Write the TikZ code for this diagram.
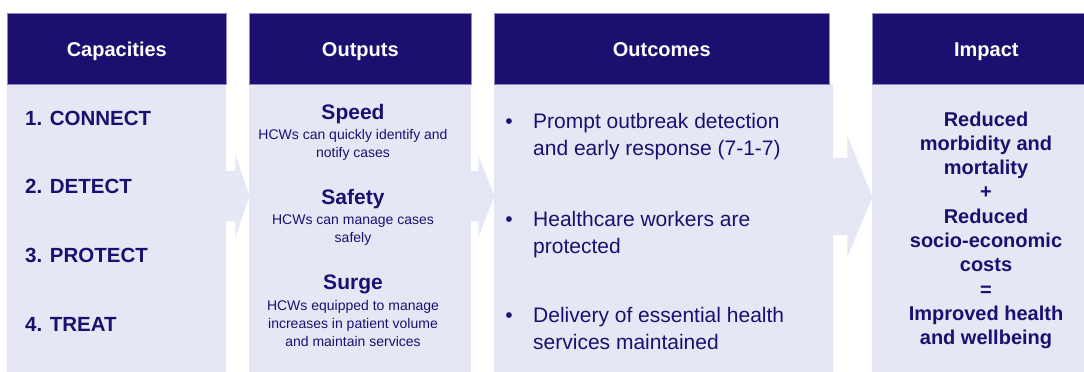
\documentclass[tikz,border=0pt]{standalone}
\usepackage{fontspec}
\setmainfont{Liberation Sans}
\usetikzlibrary{calc}
\definecolor{navy}{HTML}{1B1070}
\definecolor{pale}{HTML}{E6E7F5}
\definecolor{rim}{HTML}{8E8AC6}
\begin{document}
\begin{tikzpicture}[x=1pt,y=-1pt,
  headbox/.style={fill=navy, draw=rim, line width=0.6pt, anchor=north west,
    minimum height=71pt, inner sep=0pt, text=white,
    text height=15.5pt, text depth=0pt,
    font=\bfseries\fontsize{20}{24}\selectfont},
  panelbox/.style={fill=pale, anchor=north west, minimum height=288pt, inner sep=0pt},
  capitem/.style={anchor=base west, inner sep=0pt, text=navy,
    font=\bfseries\fontsize{20.5}{24}\selectfont},
  outtitle/.style={anchor=base, inner sep=0pt, text=navy,
    font=\bfseries\fontsize{21}{25}\selectfont},
  % multi-line nodes below are placed by the baseline of their last line
  outnote/.style={anchor=base, inner sep=0pt, text=navy, align=center,
    font=\fontsize{14}{18}\selectfont},
  bulletdot/.style={anchor=base, inner sep=0pt, text=navy,
    font=\fontsize{21}{27.5}\selectfont},
  outcomeitem/.style={anchor=base west, inner sep=0pt, text=navy, align=left,
    font=\fontsize{21}{27.5}\selectfont},
  impacttext/.style={anchor=base, inner sep=0pt, text=navy, align=center,
    font=\bfseries\fontsize{20}{24.3}\selectfont}]
\useasboundingbox (0,0) rectangle (1084,372);
\clip (0,0) rectangle (1084,372);
\fill[white] (0,0) rectangle (1084,372);

% column bodies
\node[panelbox, minimum width=219pt] (b1) at (7,84) {};
\node[panelbox, minimum width=222pt] (b2) at (249,84) {};
\node[panelbox, minimum width=339pt] (b3) at (494,84) {};
\node[panelbox, minimum width=228pt] (b4) at (872,84) {};

% block arrows between the columns
\fill[pale] ($(b1.north east)+(-1,87)$) -- ($(b1.north east)+(9,87)$)
  -- ($(b1.north east)+(9,71)$) -- ($(b2.north west)+(0.5,112)$)
  -- ($(b1.north east)+(9,153)$) -- ($(b1.north east)+(9,137)$)
  -- ($(b1.north east)+(-1,137)$) -- cycle;
\fill[pale] ($(b2.north east)+(-1,87)$) -- ($(b2.north east)+(7,87)$)
  -- ($(b2.north east)+(7,72)$) -- ($(b3.north west)+(0.5,112)$)
  -- ($(b2.north east)+(7,153)$) -- ($(b2.north east)+(7,137)$)
  -- ($(b2.north east)+(-1,137)$) -- cycle;
\fill[pale] ($(b3.north east)+(-1,74)$) -- ($(b3.north east)+(14,74)$)
  -- ($(b3.north east)+(14,52)$) -- ($(b4.north west)+(0.5,113)$)
  -- ($(b3.north east)+(14,173)$) -- ($(b3.north east)+(14,151)$)
  -- ($(b3.north east)+(-1,151)$) -- cycle;

% headers
\node[headbox, minimum width=219pt] (h1) at (7,13) {Capacities};
\node[headbox, minimum width=222pt] (h2) at (249,13) {Outputs};
\node[headbox, minimum width=335pt] (h3) at (494,13) {Outcomes};
\node[headbox, minimum width=228pt] (h4) at (872,13) {Impact};

% capacities
\node[capitem] (c1) at (25,125) {1. CONNECT};
\node[capitem] (c2) at (25,193) {2. DETECT};
\node[capitem] (c3) at (25,262) {3. PROTECT};
\node[capitem] (c4) at (25,331) {4. TREAT};

% outputs
\node[outtitle] (o1) at (353,119) {Speed};
\node[outnote] (o1n) at (353,157) {HCWs can quickly identify and\\notify cases};
\node[outtitle] (o2) at (353,204) {Safety};
\node[outnote] (o2n) at (353,242.5) {HCWs can manage cases\\safely};
\node[outtitle] (o3) at (353,289) {Surge};
\node[outnote] (o3n) at (353,346) {HCWs equipped to manage\\increases in patient volume\\and maintain services};

% outcomes
\node[bulletdot] (d1) at (509,128) {•};
\node[outcomeitem] (u1) at (533,155.5) {Prompt outbreak detection\\and early response (7-1-7)};
\node[bulletdot] (d2) at (509,226) {•};
\node[outcomeitem] (u2) at (533,253.5) {Healthcare workers are\\protected};
\node[bulletdot] (d3) at (509,322) {•};
\node[outcomeitem] (u3) at (533,349.5) {Delivery of essential health\\services maintained};

% impact
\node[impacttext] (r1) at (986,344.7) {Reduced\\morbidity and\\mortality\\+\\Reduced\\socio-economic\\costs\\=\\Improved health\\and wellbeing};
\end{tikzpicture}
\end{document}
